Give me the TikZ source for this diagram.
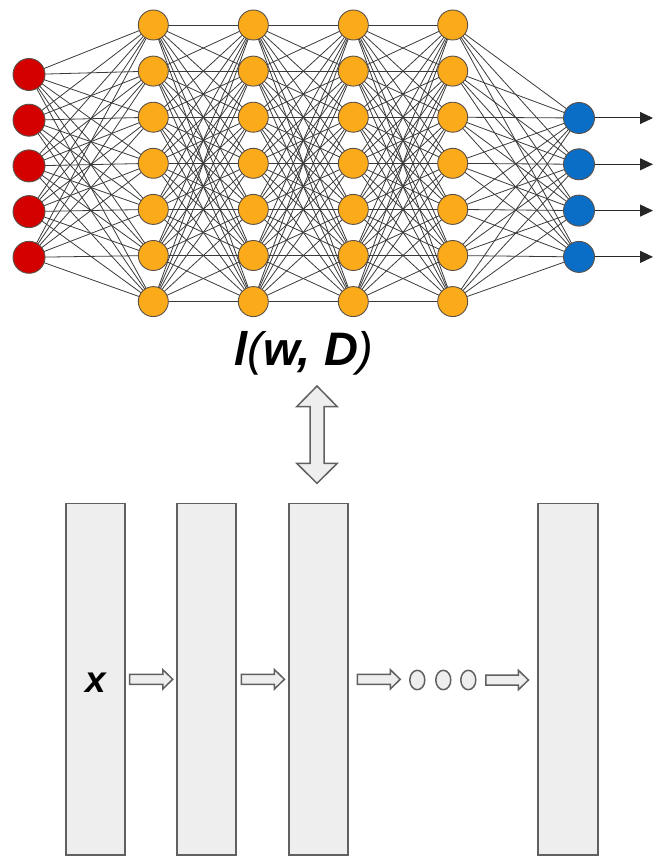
\documentclass[tikz,border=0pt]{standalone}
\usepackage{fontspec}
\newfontfamily\arial{Liberation Sans}
\usetikzlibrary{arrows.meta,calc,backgrounds,shapes.geometric}
\definecolor{nnred}{HTML}{D40000}
\definecolor{nnorange}{HTML}{FBAA1A}
\definecolor{nnblue}{HTML}{0B6EC6}
\definecolor{rim}{HTML}{5A5048}
\definecolor{wirecol}{HTML}{3A3A3A}
\definecolor{panel}{HTML}{EEEEEE}
\definecolor{panelrim}{HTML}{606060}

\begin{document}
\begin{tikzpicture}[x=1pt,y=-1pt,
  neuron/.style={circle,draw=rim,line width=0.9pt,inner sep=0pt},
  inp/.style={neuron,fill=nnred,minimum size=32pt},
  hid/.style={neuron,fill=nnorange,minimum size=30pt},
  outp/.style={neuron,fill=nnblue,minimum size=31pt},
  link/.style={draw=wirecol,line width=0.8pt},
  outarrow/.style={draw=black!85,line width=1pt,-{Triangle[length=13pt,width=12pt]}},
  panelbox/.style={rectangle,draw=panelrim,fill=panel,line width=1.8pt,
    minimum width=59.3pt,minimum height=351.7pt,inner sep=0pt},
  dot/.style={ellipse,draw=panelrim,fill=panel,line width=1.5pt,
    minimum width=15pt,minimum height=19.4pt,inner sep=0pt},
  flow/.style={fill=panel,draw=panelrim,line width=1.5pt,
    to path={let \p1=(\tikztostart),\p2=(\tikztotarget) in
      (\x1,\y1+5pt) -- (\x2-10pt,\y1+5pt) -- (\x2-10pt,\y1+9.7pt) -- (\x2,\y1)
      -- (\x2-10pt,\y1-9.7pt) -- (\x2-10pt,\y1-5pt) -- (\x1,\y1-5pt) -- cycle}},
  dbl/.style={fill=panel,draw=panelrim,line width=1.5pt,
    to path={let \p1=(\tikztostart),\p2=(\tikztotarget) in
      (\x1,\y1) -- (\x1+20.3pt,\y1-20.7pt) -- (\x1+7pt,\y1-20.7pt)
      -- (\x1+7pt,\y2+20pt) -- (\x1+20.3pt,\y2+20pt) -- (\x2,\y2)
      -- (\x1-20.3pt,\y2+20pt) -- (\x1-7pt,\y2+20pt)
      -- (\x1-7pt,\y1-20.7pt) -- (\x1-20.3pt,\y1-20.7pt) -- cycle}}
]
\useasboundingbox (0,0) rectangle (654,856);

% network: input, four hidden layers, output
\foreach \k in {1,...,5}
  \node[inp] (i\k) at (29,{74.5+45.7*(\k-1)}) {};
\foreach \L/\x in {1/153.3,2/253.3,3/353.3,4/452.7}
  \foreach \k in {1,...,7}
    \node[hid] (h\L-\k) at (\x,{25+46.1*(\k-1)}) {};
\foreach \k in {1,...,4} {
  \node[outp] (o\k) at (579,{118+46.3*(\k-1)}) {};
  \coordinate (t\k) at (653,{118+46.3*(\k-1)});
  \draw[outarrow] (o\k) -- (t\k);
}

% fully connected weights behind the neurons
\begin{scope}[on background layer]
  \foreach \a in {1,...,5}
    \foreach \b in {1,...,7}
      \draw[link] (i\a.center) -- (h1-\b.center);
  \foreach \L/\M in {1/2,2/3,3/4}
    \foreach \a in {1,...,7}
      \foreach \b in {1,...,7}
        \draw[link] (h\L-\a.center) -- (h\M-\b.center);
  \foreach \a in {1,...,7}
    \foreach \b in {1,...,4}
      \draw[link] (h4-\a.center) -- (o\b.center);
\end{scope}

% loss label
\node[anchor=base,inner sep=0pt] (loss) at (304,365)
  {\arial\fontsize{47}{47}\selectfont\itshape\bfseries l\mdseries(\bfseries w, D\mdseries)};

% layer stack
\node[panelbox] (b1) at (95.4,679.3) {};
\node[panelbox] (b2) at (206.7,679.3) {};
\node[panelbox] (b3) at (318.3,679.3) {};
\node[panelbox] (b4) at (568,679.3) {};
\node[inner sep=0pt] (xin) at (95.4,683) {\arial\fontsize{37}{37}\selectfont\bfseries\itshape x};

\node[dot] (e1) at (417.3,680) {};
\node[dot] (e2) at (443.3,680) {};
\node[dot] (e3) at (468.3,680) {};

\draw[flow] ([xshift=3.7pt]b1.east) to ([xshift=-3.4pt]b2.west);
\draw[flow] ([xshift=4pt]b2.east) to ([xshift=-3.3pt]b3.west);
\draw[flow] ([xshift=8.4pt]b3.east) to ([xshift=-8.8pt]e1.west);
\draw[flow] ([xshift=9.2pt]e3.east) to ([xshift=-9pt]b4.west);

% link between the loss and the stack
\coordinate (dtop) at (317,386);
\coordinate (dbot) at (317,483.3);
\draw[dbl] (dtop) to (dbot);
\end{tikzpicture}
\end{document}
